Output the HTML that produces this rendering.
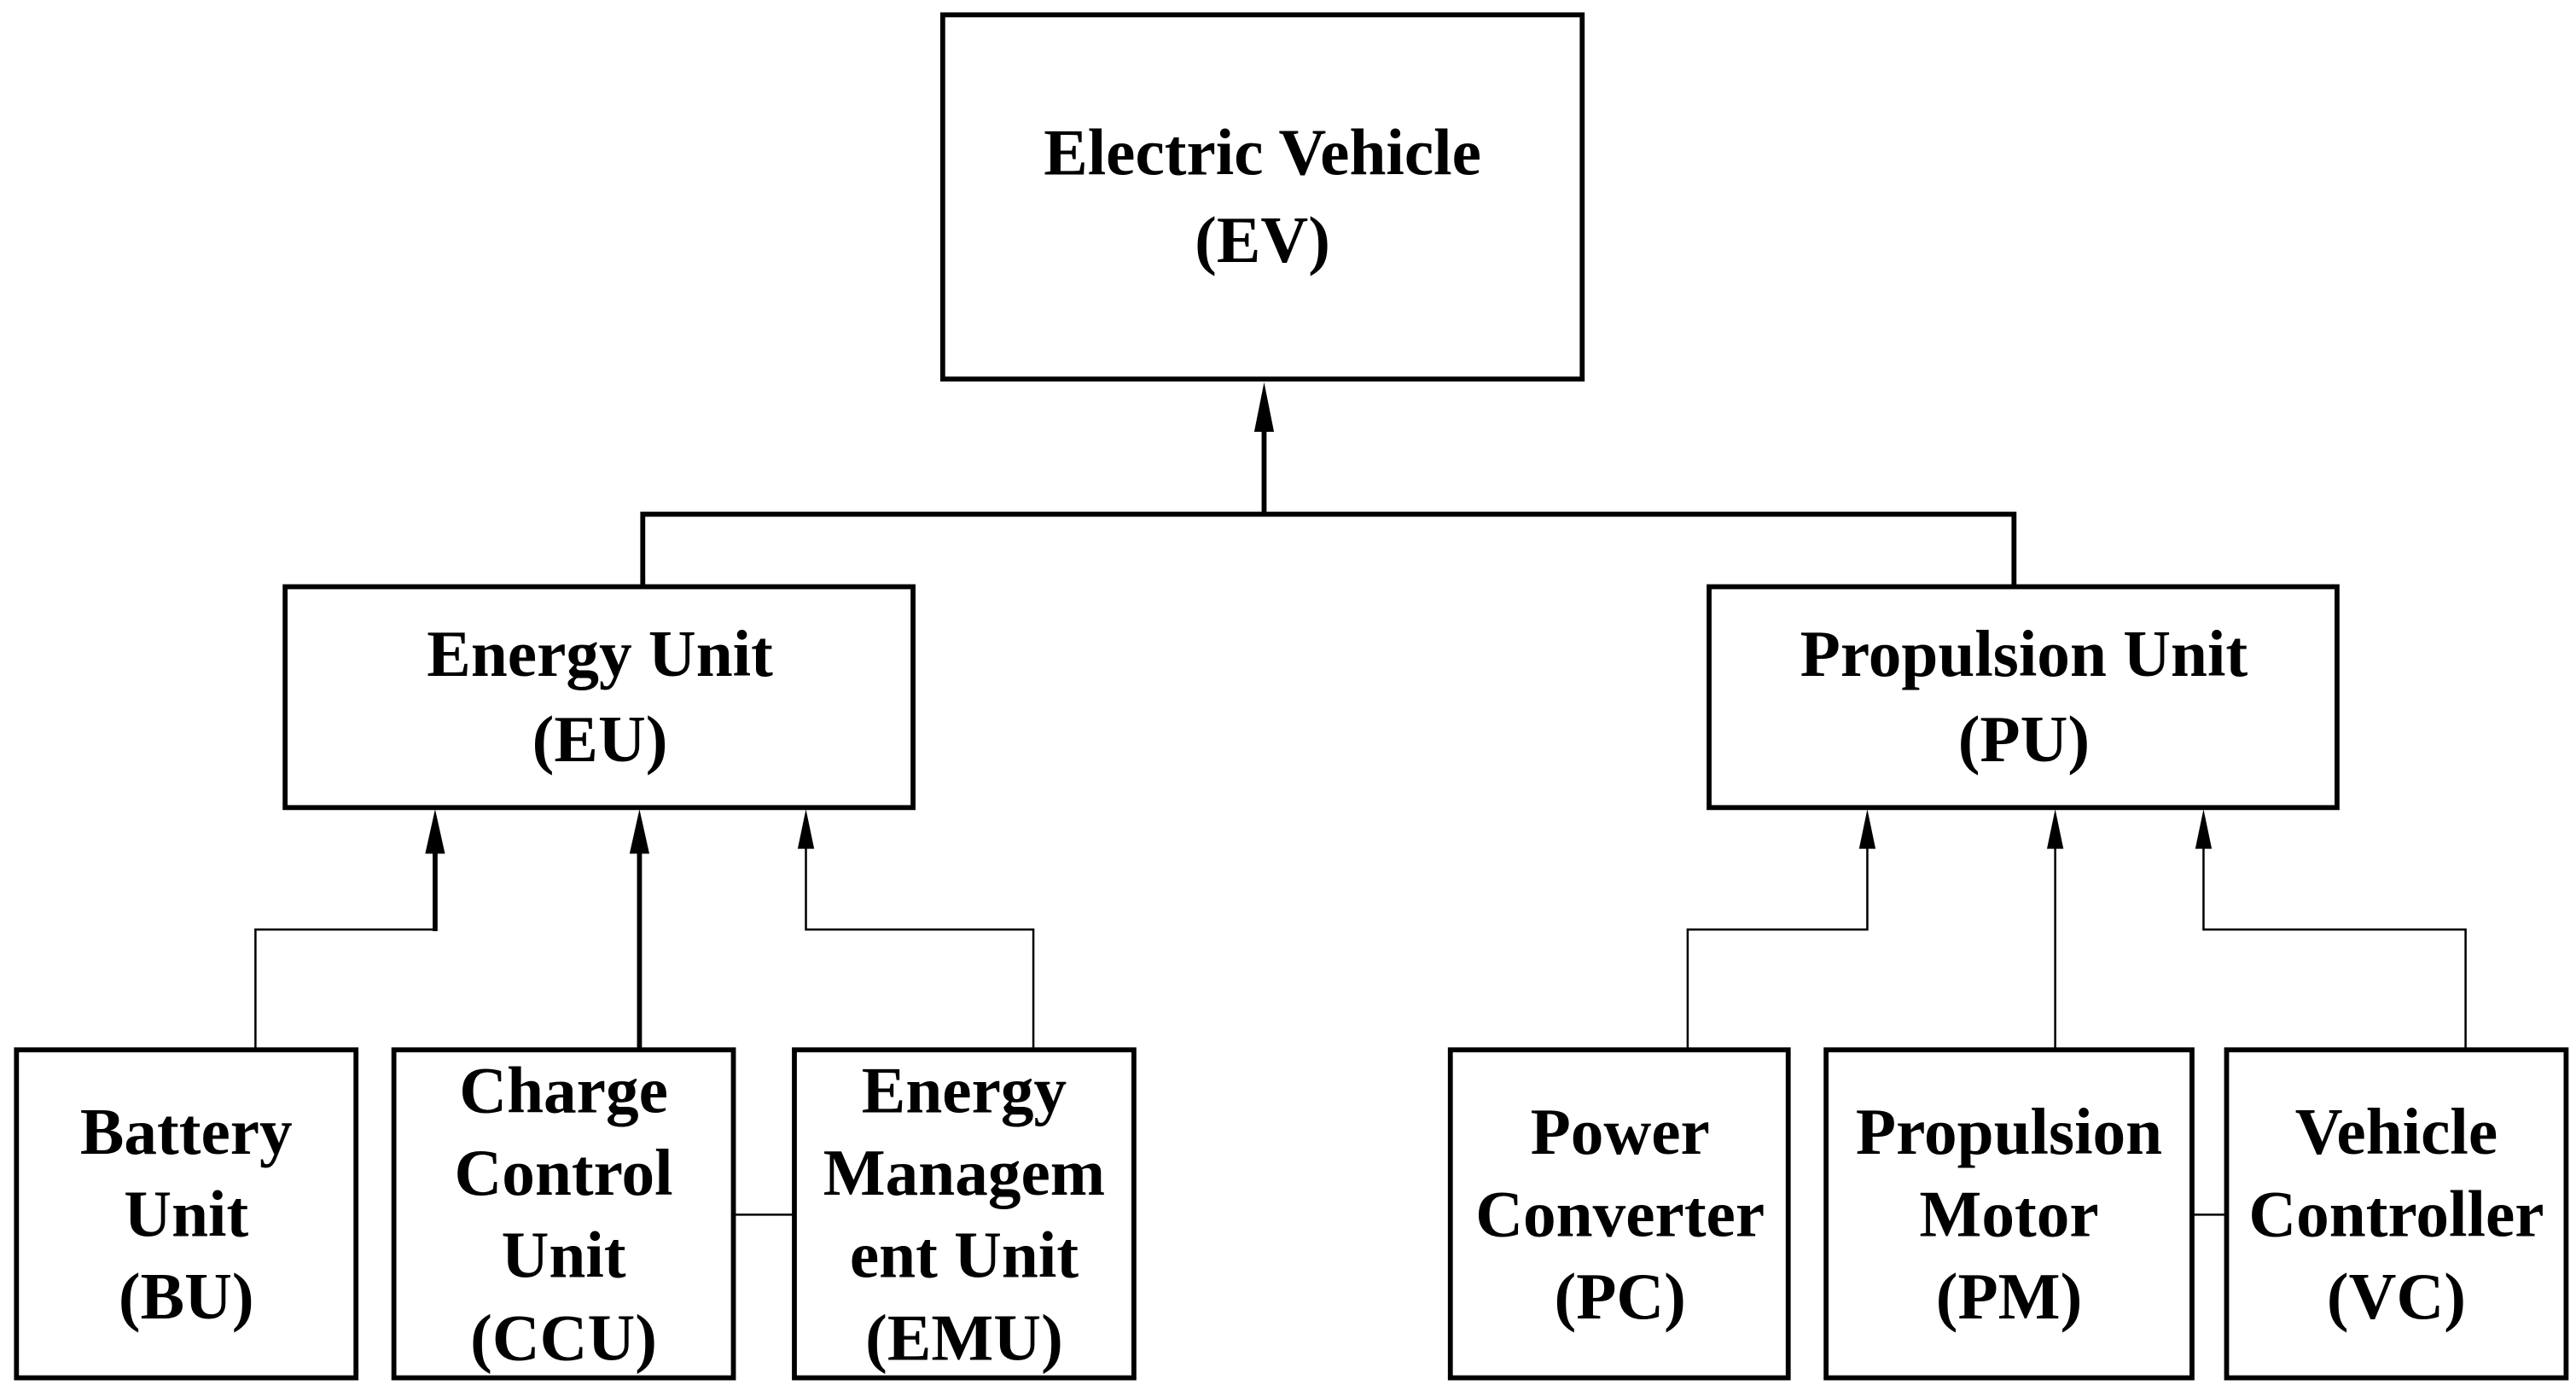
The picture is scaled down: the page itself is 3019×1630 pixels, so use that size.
<!DOCTYPE html>
<html><head><style>html,body{margin:0;padding:0;background:#fff}svg{display:block}</style></head>
<body>
<svg width="3019" height="1630" viewBox="0 0 1563 844" preserveAspectRatio="none" xmlns="http://www.w3.org/2000/svg">
<g fill="none" stroke="#000" stroke-width="3">
<rect x="572" y="9" width="388" height="221"/>
<rect x="173" y="356" width="381" height="134"/>
<rect x="1037" y="356" width="381" height="134"/>
<rect x="10" y="637" width="206" height="199"/>
<rect x="239" y="637" width="206" height="199"/>
<rect x="482" y="637" width="206" height="199"/>
<rect x="880" y="637" width="205" height="199"/>
<rect x="1108" y="637" width="222" height="199"/>
<rect x="1351" y="637" width="206" height="199"/>
<polyline points="390,356 390,312 1222,312 1222,356"/>
<line x1="767" y1="312" x2="767" y2="255"/>
<line x1="264" y1="565" x2="264" y2="512"/>
<line x1="388" y1="637" x2="388" y2="512"/>
</g>
<g fill="#000">
<path d="M767 232 L773 262 L761 262 Z"/>
<path d="M264 491 L270 518 L258 518 Z"/>
<path d="M388 491 L394 518 L382 518 Z"/>
<path d="M489 491 L494 515 L484 515 Z"/>
<path d="M1133 491 L1138 515 L1128 515 Z"/>
<path d="M1247 491 L1252 515 L1242 515 Z"/>
<path d="M1337 491 L1342 515 L1332 515 Z"/>
</g>
<g fill="none" stroke="#000" stroke-width="1.3">
<polyline points="155,637 155,564 264,564"/>
<polyline points="627,637 627,564 489,564 489,512"/>
<polyline points="1024,637 1024,564 1133,564 1133,512"/>
<line x1="1247" y1="637" x2="1247" y2="512"/>
<polyline points="1496,637 1496,564 1337,564 1337,512"/>
<line x1="445" y1="737" x2="482" y2="737"/>
<line x1="1330" y1="737" x2="1351" y2="737"/>
</g>
<g font-family="Liberation Serif, serif" font-weight="bold" font-size="40" text-anchor="middle" fill="#000">
<text x="766" y="106">Electric Vehicle</text>
<text x="766" y="159">(EV)</text>
<text x="364" y="410">Energy Unit</text>
<text x="364" y="462">(EU)</text>
<text x="1228" y="410">Propulsion Unit</text>
<text x="1228" y="462">(PU)</text>
<text x="113" y="700">Battery</text>
<text x="113" y="750">Unit</text>
<text x="113" y="800">(BU)</text>
<text x="342" y="675">Charge</text>
<text x="342" y="725">Control</text>
<text x="342" y="775">Unit</text>
<text x="342" y="825">(CCU)</text>
<text x="585" y="675">Energy</text>
<text x="585" y="725">Managem</text>
<text x="585" y="775">ent Unit</text>
<text x="585" y="825">(EMU)</text>
<text x="983" y="700">Power</text>
<text x="983" y="750">Converter</text>
<text x="983" y="800">(PC)</text>
<text x="1219" y="700">Propulsion</text>
<text x="1219" y="750">Motor</text>
<text x="1219" y="800">(PM)</text>
<text x="1454" y="700">Vehicle</text>
<text x="1454" y="750">Controller</text>
<text x="1454" y="800">(VC)</text>
</g>
</svg>
</body></html>
